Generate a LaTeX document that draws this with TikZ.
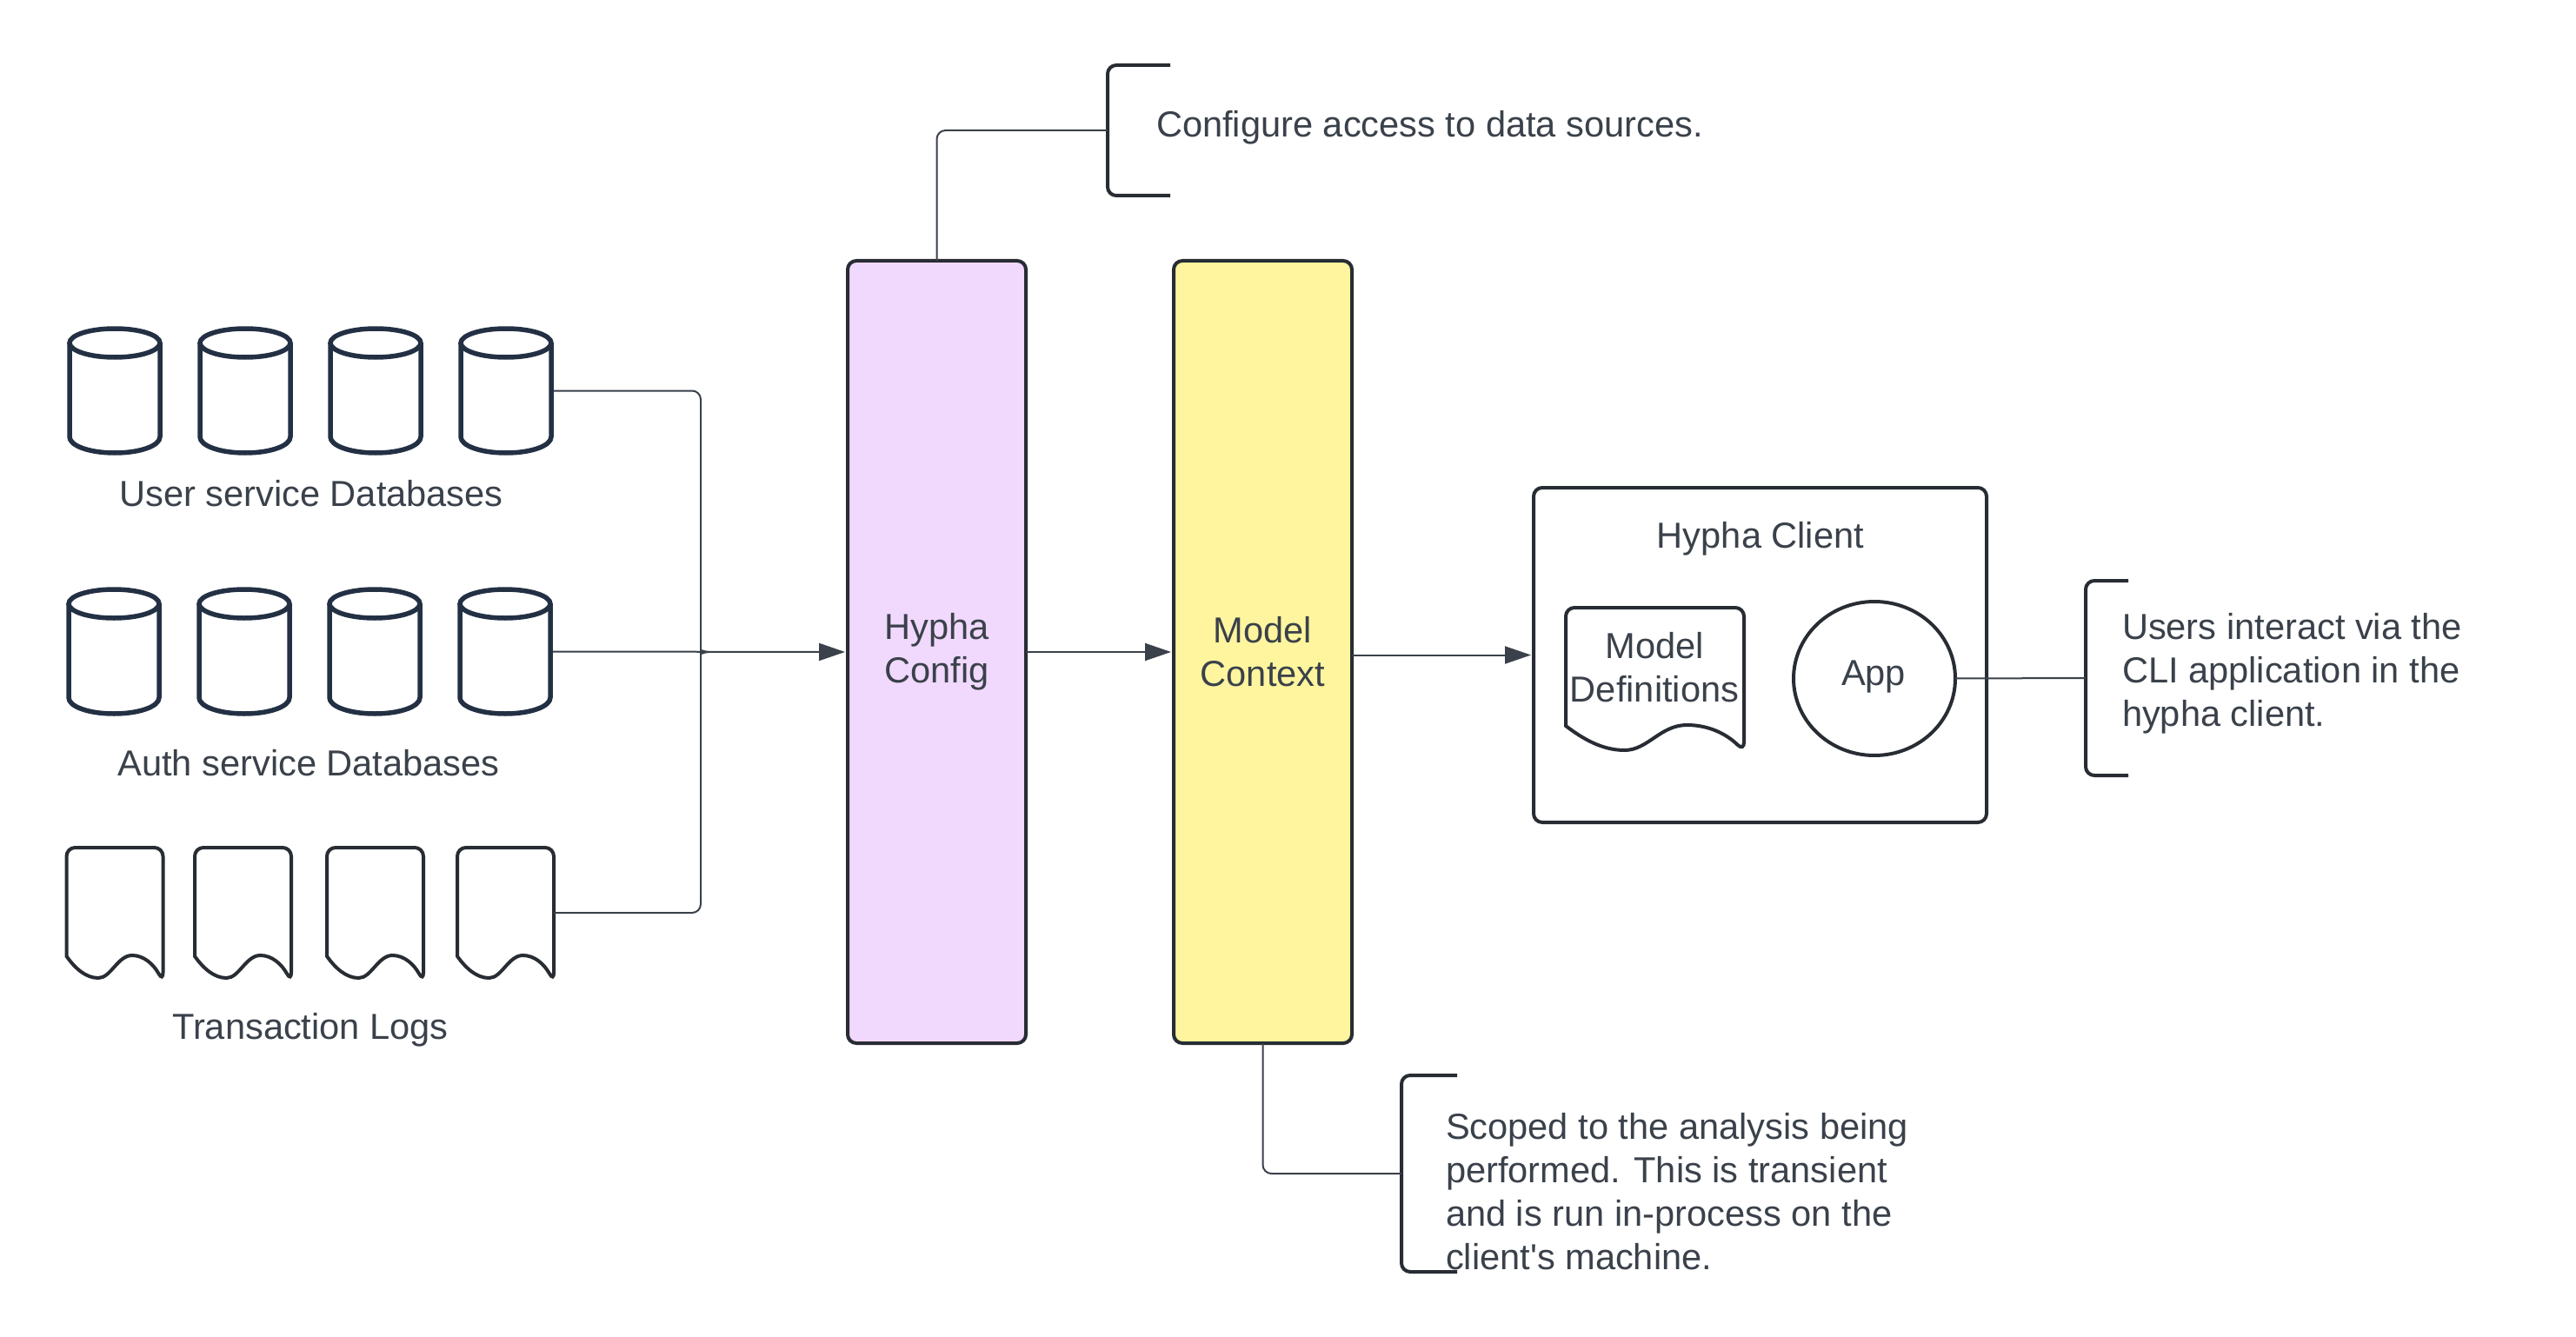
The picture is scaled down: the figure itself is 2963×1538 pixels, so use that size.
\documentclass[tikz,border=0pt]{standalone}
\usepackage{fontspec}
\newfontfamily\lib{Liberation Sans}
\usetikzlibrary{arrows.meta,shapes.geometric}
\definecolor{inkc}{HTML}{282C33}
\definecolor{navy}{HTML}{233044}
\definecolor{conc}{HTML}{3A414A}
\definecolor{txtc}{HTML}{3A414A}
\definecolor{lilac}{HTML}{F1D8FD}
\definecolor{lemon}{HTML}{FFF59E}
\tikzset{
  label text/.style={font=\lib\fontsize{41.6}{50}\selectfont,text=txtc,inner sep=0pt,outer sep=0pt},
  ghost/.style={rectangle,inner sep=0pt,outer sep=0pt},
  bar/.style={draw=inkc,line width=4pt,rounded corners=10pt,rectangle,inner sep=0pt,outer sep=0pt,align=center,font=\lib\fontsize{41.6}{50}\selectfont,text=txtc},
  conn/.style={draw=conc,line width=2pt,rounded corners=10pt},
  flow/.style={conn,-{Triangle[length=30pt,width=20pt]},shorten >=3pt}
}
% name, x centre, y centre
\newcommand{\cyl}[3]{%
  \node[ghost,minimum width=110pt,minimum height=149pt] (#1) at (#2,#3) {};
  \begin{scope}[shift={(#2,#3)}]
    \draw[navy,line width=5.5pt,fill=white,line join=round]
      (-52,-55) -- (-52,53) .. controls (-52,63) and (-30,71.5) .. (0,71.5)
      .. controls (30,71.5) and (52,63) .. (52,53) -- (52,-55);
    \draw[navy,line width=5.5pt] (0,-55) ellipse [x radius=52,y radius=16.5];
  \end{scope}}
% name, x left, y top, width, y wave-left, trough, crest, right end
\newcommand{\wavedoc}[8]{%
  \node[ghost,minimum width=#4 pt,minimum height=150pt] (#1) at (#2+#4/2,#3+75) {};
  \begin{scope}[shift={(#2,#3)}]
    \draw[draw=inkc,line width=4pt,line join=miter,miter limit=8,fill=white]
      (0,#5) [rounded corners=10pt] -- (0,0) -- (#4,0) -- (#4,#8) [sharp corners]
      .. controls (#4*0.90,#8-20) and (#4*0.80,#7) .. (#4*0.68,#7)
      .. controls (#4*0.53,#7) and (#4*0.46,#6) .. (#4*0.33,#6)
      .. controls (#4*0.20,#6) and (#4*0.09,#5+14) .. (0,#5) -- cycle;
  \end{scope}}
% name, x spine, y top, y bottom, x end
\newcommand{\brk}[5]{%
  \node[ghost,minimum width=1pt,minimum height=1pt,anchor=west] (#1) at (#2,#3/2+#4/2) {};
  \draw[inkc,line width=4pt,rounded corners=10pt] (#5,#3) -- (#2,#3) -- (#2,#4) -- (#5,#4);}
\begin{document}
\begin{tikzpicture}[x=1pt,y=-1pt]
\useasboundingbox (0,0) rectangle (2963,1538);
\fill[white] (0,0) rectangle (2963,1538);

\foreach \n/\x in {1/132,2/282,3/432,4/582}{\cyl{u\n}{\x}{449.5}}
\foreach \n/\x in {1/131,2/281,3/431,4/581}{\cyl{a\n}{\x}{749.5}}
\wavedoc{t1}{76.5}{975}{111}{125}{150}{124}{154}
\wavedoc{t2}{224}{975}{111}{125}{150}{124}{154}
\wavedoc{t3}{376}{975}{111}{125}{150}{124}{154}
\wavedoc{t4}{526}{975}{111}{125}{150}{124}{154}

\node[label text,anchor=base] (lu) at (358,582) {User service Databases};
\node[label text,anchor=base] (la) at (355,892) {Auth service Databases};
\node[label text,anchor=base] (lt) at (357,1195) {Transaction Logs};

\node[bar,fill=lilac,minimum width=205pt,minimum height=900pt] (hc) at (1077.5,750) {Hypha\\Config};
\node[bar,fill=lemon,minimum width=205pt,minimum height=900pt] (mc) at (1452.5,750) {Model\\Context};
\node[bar,fill=white,minimum width=521pt,minimum height=385pt] (cl) at (2024.5,753.5) {};
\node[label text,anchor=base] (clt) at (2025,630) {Hypha Client};

\wavedoc{md}{1801}{699}{205}{136}{164}{135}{165}
\node[label text,align=center] (mdt) at (1903,768) {Model\\Definitions};
\node[draw=inkc,line width=4pt,ellipse,inner sep=0pt,outer sep=0pt,minimum width=186pt,minimum height=177pt,fill=white] (app) at (2156,780.5) {};
\node[label text,anchor=base] (appt) at (2155,788) {App};

\brk{b1}{1274}{75}{225}{1346}
\brk{b2}{1612}{1237}{1463}{1676}
\brk{b3}{2399}{668}{892}{2448}

\node[label text,anchor=base west] (tb1) at (1330,158) {Configure access to data sources.};
\node[label text,align=left,anchor=west] (tb2) at (1663,1371) {Scoped to the analysis being\\performed. This is transient\\and is run in-process on the\\client's machine.};
\node[label text,align=left,anchor=west] (tb3) at (2441,775) {Users interact via the\\CLI application in the\\hypha client.};

% connectors
\coordinate (bus) at (806,750);
\coordinate (busA) at (806,740);
\coordinate (busB) at (806,760);
\coordinate (busT) at (815,750);
\draw[conn] (u4.east) -- (bus |- u4.east) -- (busA) .. controls (806,746) and (809,750) .. (busT);
\draw[conn] (t4.east) -- (bus |- t4.east) -- (busB) .. controls (806,754) and (809,750) .. (busT);
\draw[flow] (a4.east) -- (hc.west);
\draw[flow] (hc.east) -- (mc.west);
\draw[flow] (mc.east |- cl.west) -- (cl.west);
\draw[conn] (hc.north) -- (hc.north |- b1.west) -- (b1.west);
\draw[conn] (mc.south) -- (mc.south |- b2.west) -- (b2.west);
\draw[conn] (app.east) -- (b3.west);
\end{tikzpicture}
\end{document}
